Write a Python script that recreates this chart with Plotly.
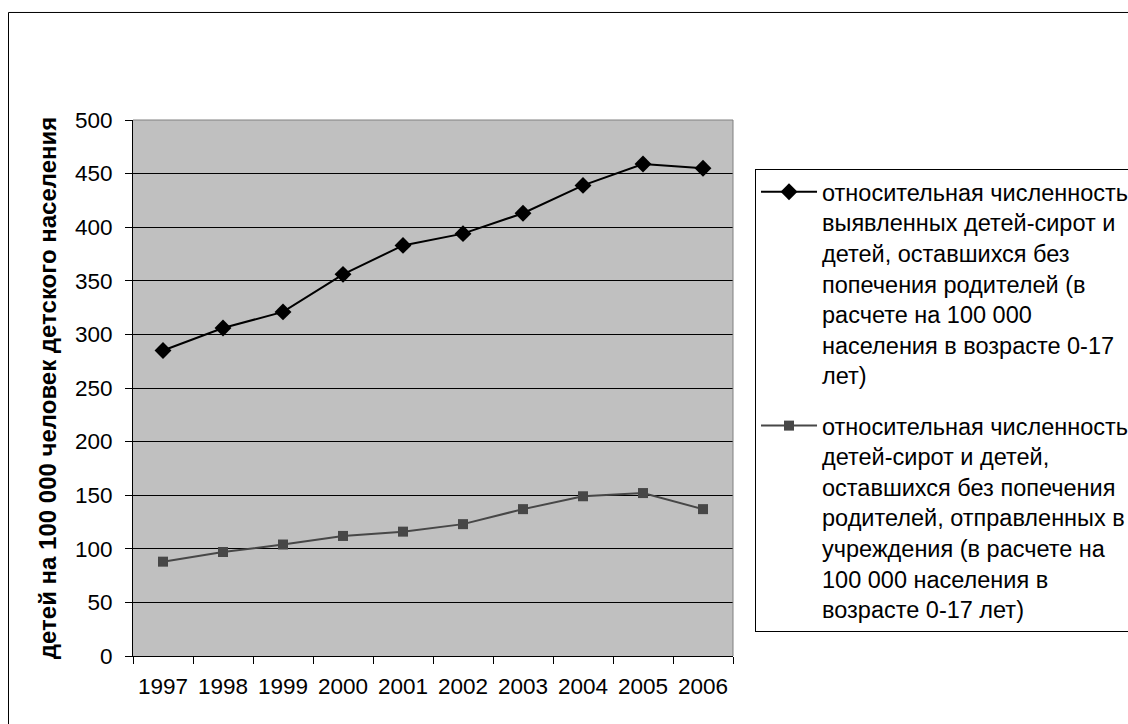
import plotly.graph_objects as go

# Years on the category axis
years = ["1997", "1998", "1999", "2000", "2001", "2002", "2003", "2004", "2005", "2006"]

# Identified orphans and children left without parental care, per 100 000 aged 0-17
identified = [285, 306, 321, 356, 383, 394, 413, 439, 459, 455]

# Of those, children sent to institutions, per 100 000 aged 0-17
institutions = [88, 97, 104, 112, 116, 123, 137, 149, 152, 137]

name_identified = (
    "относительная численность<br>выявленных детей-сирот и<br>детей, оставшихся без<br>"
    "попечения родителей (в<br>расчете на 100 000<br>населения в возрасте 0-17<br>лет)"
)
name_institutions = (
    "относительная численность<br>детей-сирот и детей,<br>оставшихся без попечения<br>"
    "родителей, отправленных в<br>учреждения (в расчете на<br>100 000 населения в<br>"
    "возрасте 0-17 лет)"
)
y_title = "детей на 100 000 человек детского населения"

FONT = "Arial, 'Liberation Sans', sans-serif"
TICK_FS = 22.5
LEG_FS = 23.5

fig = go.Figure()
fig.add_trace(go.Scatter(
    x=years, y=identified, name=name_identified, legendgroup="a",
    mode="lines+markers",
    line=dict(color="#000000", width=2),
    marker=dict(symbol="diamond", size=13, color="#000000"),
))
fig.add_trace(go.Scatter(
    x=years, y=institutions, name=name_institutions, legendgroup="b",
    mode="lines+markers",
    line=dict(color="#474747", width=2),
    marker=dict(symbol="square", size=10, color="#474747"),
))

fig.update_layout(
    width=1128, height=724,
    margin=dict(l=133, r=395, t=120, b=68, autoexpand=False),
    paper_bgcolor="#FFFFFF",
    plot_bgcolor="#C0C0C0",
    font=dict(family=FONT, size=TICK_FS, color="#000000"),
    showlegend=True,
    legend=dict(
        x=1.0367, y=0.9086, xanchor="left", yanchor="top",
        bgcolor="#FFFFFF", bordercolor="#000000", borderwidth=1,
        font=dict(family=FONT, size=LEG_FS, color="#000000"),
        itemwidth=56, tracegroupgap=17, traceorder="grouped",
        valign="top",
    ),
    xaxis=dict(
        type="category", range=[-0.5, 9.5], tickson="boundaries",
        ticks="outside", ticklen=7, tickcolor="#000000", tickwidth=1,
        showline=True, linecolor="#000000", linewidth=1,
        showgrid=False, zeroline=False,
        tickangle=0, ticklabelstandoff=10,
        tickfont=dict(family=FONT, size=TICK_FS, color="#000000"),
    ),
    yaxis=dict(
        range=[0, 500], tick0=0, dtick=50,
        ticks="outside", ticklen=7, tickcolor="#000000", tickwidth=1,
        showline=True, linecolor="#000000", linewidth=1,
        showgrid=True, gridcolor="#000000", gridwidth=1, zeroline=False,
        ticklabelstandoff=8,
        tickfont=dict(family=FONT, size=TICK_FS, color="#000000"),
    ),
    shapes=[
        # grey edge on the top and right of the plot area
        dict(type="path", xref="paper", yref="paper", path="M 0,1 L 1,1 L 1,0",
             line=dict(color="#808080", width=1), layer="above"),
        # outer chart frame (top and left edges fall inside the page)
        dict(type="path", xref="paper", yref="paper",
             path="M 1.8,1.2006 L -0.2075,1.2006 L -0.2075,-0.25",
             line=dict(color="#000000", width=1), layer="above"),
    ],
    annotations=[
        dict(text="<b>" + y_title + "</b>", xref="paper", yref="paper",
             x=-0.143, y=0.5, xanchor="center", yanchor="middle",
             textangle=-90, showarrow=False,
             font=dict(family=FONT, size=24, color="#000000")),
    ],
)

fig.write_html("out.html")
